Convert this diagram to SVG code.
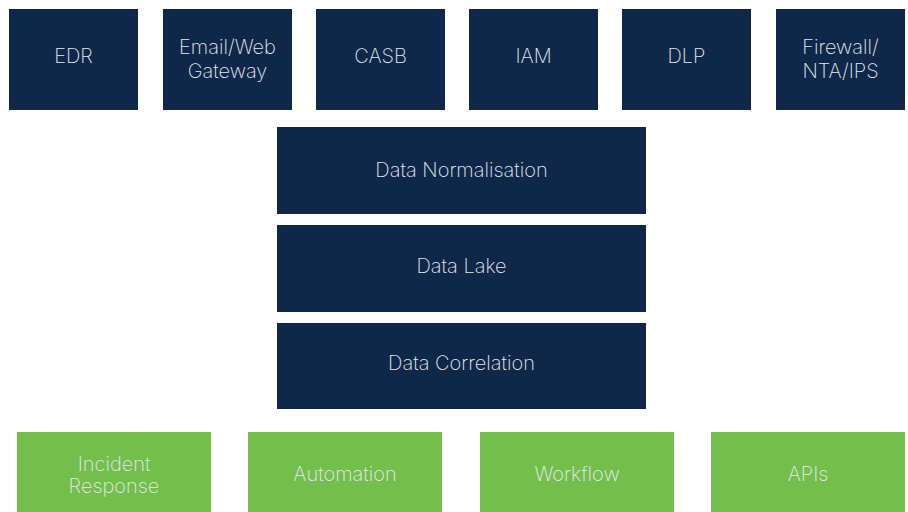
<svg xmlns="http://www.w3.org/2000/svg" width="908" height="512" viewBox="0 0 908 512">
<style>
.n{fill:#0f2749}
.g{fill:#74be4c}
text{font-family:Inter,"Open Sans","Liberation Sans",sans-serif;font-weight:200;font-size:20px;fill:#e4e9ef;text-anchor:middle}
</style>
<rect width="908" height="512" fill="#ffffff"/>
<g id="edr"><rect class="n" x="9" y="9" width="129" height="101"/><text x="73.5" y="63">EDR</text></g>
<g id="email"><rect class="n" x="163" y="9" width="129" height="101"/><text x="227.5" y="54">Email/Web</text><text x="227.5" y="78">Gateway</text></g>
<g id="casb"><rect class="n" x="316" y="9" width="129" height="101"/><text x="380.5" y="63">CASB</text></g>
<g id="iam"><rect class="n" x="469" y="9" width="129" height="101"/><text x="533.5" y="63">IAM</text></g>
<g id="dlp"><rect class="n" x="622" y="9" width="129" height="101"/><text x="686.5" y="63">DLP</text></g>
<g id="firewall"><rect class="n" x="776" y="9" width="129" height="101"/><text x="840.5" y="54">Firewall/</text><text x="840.5" y="78">NTA/IPS</text></g>
<g id="normalisation"><rect class="n" x="277" y="127" width="369" height="87"/><text x="461.5" y="177">Data Normalisation</text></g>
<g id="lake"><rect class="n" x="277" y="225" width="369" height="87"/><text x="461.5" y="273">Data Lake</text></g>
<g id="correlation"><rect class="n" x="277" y="323" width="369" height="86"/><text x="461.5" y="370">Data Correlation</text></g>
<g id="incident"><rect class="g" x="17" y="432" width="194" height="80"/><text x="114" y="471">Incident</text><text x="114" y="493">Response</text></g>
<g id="automation"><rect class="g" x="248" y="432" width="194" height="80"/><text x="345" y="481">Automation</text></g>
<g id="workflow"><rect class="g" x="480" y="432" width="194" height="80"/><text x="577" y="481">Workflow</text></g>
<g id="apis"><rect class="g" x="711" y="432" width="194" height="80"/><text x="808" y="481">APIs</text></g>
<g id="connectors"></g>
</svg>
